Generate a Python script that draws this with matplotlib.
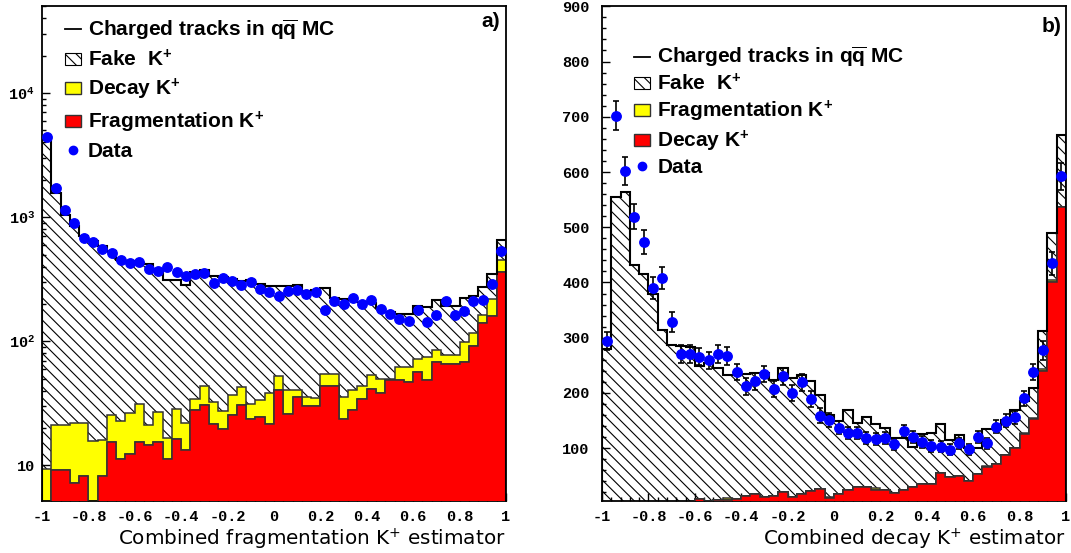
import numpy as np
import matplotlib
matplotlib.use("Agg")
import matplotlib.pyplot as plt
from matplotlib.lines import Line2D
from matplotlib.patches import Patch
from matplotlib.ticker import MultipleLocator, LogLocator, FuncFormatter, NullFormatter

plt.rcParams['font.family'] = ['Liberation Mono', 'DejaVu Sans']
plt.rcParams['font.weight'] = 'bold'
plt.rcParams['mathtext.default'] = 'regular'
plt.rcParams['hatch.linewidth'] = 0.8

# 50 bins between -1 and 1
edges = np.linspace(-1, 1, 51)
centers = 0.5 * (edges[:-1] + edges[1:])

# ---- panel a) fragmentation estimator (log scale)
data_a = [4400, 1725, 1150, 900, 681, 632, 556, 516, 456, 428,
          434, 385, 367, 395, 363, 335, 349, 356, 296, 324,
          308, 283, 299, 266, 250, 231, 253, 261, 241, 248,
          180, 211, 201, 224, 200, 215, 183, 166, 152, 147,
          180, 143, 164, 211, 162, 175, 211, 217, 290, 532]
mc_a = [4150, 1571, 1051, 846, 703, 640, 584, 532, 456, 442,
        428, 420, 385, 310, 310, 283, 363, 378, 334, 330,
        318, 308, 312, 287, 281, 280, 278, 283, 256, 261,
        269, 224, 219, 217, 208, 204, 186, 172, 167, 166,
        192, 188, 217, 194, 194, 224, 231, 272, 349, 653]
frag_a = [0, 9.2, 9.2, 7.2, 8.2, 0, 8.2, 15.4, 11.3, 12.3,
          15.4, 14.5, 15.4, 11.3, 16.4, 13.4, 27.8, 30.8, 21.7, 19.6,
          25.3, 30.8, 23.7, 24.6, 21.7, 40.7, 25.8, 35.6, 29.9, 29.9,
          43.3, 43.3, 23.8, 27.8, 34.5, 41.5, 38.3, 48.4, 49.1, 47,
          56.6, 49.1, 68, 66.1, 65.3, 68, 91.2, 141, 159, 362]
decay_a = [8.3, 11.8, 11.8, 14.8, 13.8, 14.8, 7.7, 9.9, 11.7, 14.1,
           16, 6.5, 11.5, 5.4, 11.9, 8.6, 6.7, 13.2, 10.7, 7.6,
           11.4, 12, 7.7, 8.8, 16.9, 12.3, 14.9, 5.1, 5.7, 5.1,
           11.5, 11.5, 11.8, 12.9, 8.8, 11.7, 11.7, 1.0, 12.9, 15,
           15.8, 25.6, 16.5, 11, 11.8, 30.6, 25.8, 21, 62, 86]

# ---- panel b) decay estimator (linear scale)
data_b = [294, 702, 602, 519, 473, 390, 408, 328, 271, 270,
          266, 259, 270, 267, 238, 212, 221, 234, 207, 230,
          200, 219, 189, 159, 151, 137, 127, 128, 118, 116,
          118, 107, 131, 121, 112, 104, 103, 97, 109, 98,
          121, 109, 139, 150, 156, 190, 238, 277, 435, 592]
err_b = [17, 26, 25, 23, 22, 20, 20, 18, 16, 16,
         16, 16, 16, 16, 15, 15, 15, 15, 14, 15,
         14, 15, 14, 13, 12, 12, 11, 11, 11, 11,
         11, 10, 11, 11, 11, 10, 10, 10, 10, 10,
         11, 10, 12, 12, 12, 14, 15, 17, 21, 24]
mc_b = [280, 554, 563, 432, 415, 380, 314, 286, 285, 284,
        249, 254, 246, 232, 232, 235, 237, 237, 223, 246,
        228, 232, 222, 196, 160, 150, 169, 145, 156, 143,
        137, 118, 118, 103, 125, 127, 143, 115, 124, 101,
        100, 134, 134, 151, 169, 185, 209, 312, 489, 667]
decay_b = [0, 0, 0, 0, 0, 0, 0, 0, 0, 0,
           8, 5, 6, 7, 8, 14, 17, 12, 14, 21,
           12, 17, 22, 27, 10, 18, 24, 30, 30, 25,
           25, 19, 25, 30, 35, 35, 55, 48, 49, 40,
           54, 66, 72, 87, 101, 125, 152, 240, 400, 536]
frag_b = [0, 0, 0, 0, 0, 0, 0, 0, 0, 0,
          0, 0, 0, 2, 0, 0, 0, 0, 0, 0,
          0, 0, 0, 0, 2, 0, 0, 0, 0, 3,
          0, 0, 0, 0, 0, 0, 0, 0, 0, 0,
          0, 2, 0, 0, 0, 2, 3, 3, 5, 0]

HATCH = '\\\\\\'
legend_font = dict(family='Liberation Sans', weight='bold', size=15)


def draw_stack(ax, total, low, mid, color_low, color_mid, floor):
    low = np.maximum(np.asarray(low, float), floor)
    top = low + np.asarray(mid, float)
    total = np.asarray(total, float)
    ax.stairs(total, edges, baseline=top, fill=True, facecolor='white',
              edgecolor='black', hatch=HATCH, linewidth=0, zorder=1)
    ax.stairs(top, edges, baseline=low, fill=True, facecolor=color_mid,
              edgecolor='#333333', linewidth=1.1, zorder=2)
    ax.stairs(low, edges, baseline=floor, fill=True, facecolor=color_low,
              edgecolor='#333333', linewidth=1.1, zorder=3)
    ax.stairs(total, edges, baseline=floor, fill=False, color='black',
              linewidth=1.5, zorder=4)


def style_axes(ax):
    ax.set_xlim(-1, 1)
    ax.xaxis.set_major_locator(MultipleLocator(0.2))
    ax.xaxis.set_minor_locator(MultipleLocator(0.04))
    ax.xaxis.set_major_formatter(FuncFormatter(
        lambda v, p: '0' if abs(v) < 1e-9 else '%g' % round(v, 2)))
    ax.tick_params(which='both', direction='in', top=False, right=False,
                   labelsize=11, width=1.0)
    ax.tick_params(which='major', length=6)
    ax.tick_params(which='minor', length=3)
    ax.tick_params(axis='x', pad=7)
    for s in ax.spines.values():
        s.set_linewidth(1.3)


def legend(ax, labels, colors, anchor, spacing):
    handles = [Line2D([], [], color='black', lw=1.3),
               Patch(facecolor='white', edgecolor='black', hatch=HATCH, lw=0.8),
               Patch(facecolor=colors[0], edgecolor='#333333', lw=1.0),
               Patch(facecolor=colors[1], edgecolor='#333333', lw=1.0),
               Line2D([], [], marker='o', ls='none', color='blue', ms=6)]
    ax.legend(handles, labels, loc='upper left', bbox_to_anchor=anchor,
              frameon=False, prop=legend_font, handlelength=0.75,
              handleheight=0.5, handletextpad=0.35, labelspacing=spacing,
              borderaxespad=0, borderpad=0)


fig = plt.figure(figsize=(10.71, 5.53), dpi=100)
ax1 = fig.add_axes([0.0392, 0.0946, 0.4332, 0.894])
ax2 = fig.add_axes([0.5621, 0.0946, 0.4332, 0.894])

# panel a
ax1.set_yscale('log')
draw_stack(ax1, mc_a, frag_a, decay_a, 'red', 'yellow', 1.0)
ax1.plot(centers, data_a, 'o', color='blue', ms=6.8, zorder=5)
ax1.set_ylim(5.2, 5.0e4)
style_axes(ax1)
ax1.yaxis.set_major_locator(LogLocator(base=10))
ax1.yaxis.set_minor_locator(LogLocator(base=10, subs=np.arange(2, 10)))
ax1.yaxis.set_minor_formatter(NullFormatter())
ax1.yaxis.set_major_formatter(FuncFormatter(
    lambda v, p: '10' if round(np.log10(v)) == 1 else '10$^{%d}$' % round(np.log10(v))))
ax1.tick_params(axis='y', pad=5)
ax1.set_xlabel('Combined fragmentation K$^{+}$ estimator', loc='right',
               fontfamily='DejaVu Sans', fontweight='normal', fontsize=14.4, labelpad=2)
ax1.text(0.987, 0.988, 'a)', transform=ax1.transAxes, ha='right', va='top', **legend_font)
legend(ax1, [r'Charged tracks in q$\overline{q}$ MC', 'Fake  K$^{+}$', 'Decay K$^{+}$',
             'Fragmentation K$^{+}$', 'Data'], ['yellow', 'red'], (0.05, 0.978), 0.34)

# panel b
draw_stack(ax2, mc_b, decay_b, frag_b, 'red', 'yellow', 0.0)
ax2.errorbar(centers, data_b, yerr=err_b, fmt='o', color='blue', ms=6.8,
             ecolor='black', elinewidth=1.2, capsize=2.5, capthick=1.2, zorder=5)
ax2.set_ylim(5, 900)
style_axes(ax2)
ax2.yaxis.set_major_locator(MultipleLocator(100))
ax2.yaxis.set_minor_locator(MultipleLocator(20))
ax2.yaxis.set_major_formatter(FuncFormatter(lambda v, p: '%d' % v))
ax2.tick_params(axis='y', pad=9)
ax2.set_xlabel('Combined decay K$^{+}$ estimator', loc='right',
               fontfamily='DejaVu Sans', fontweight='normal', fontsize=14.3, labelpad=2)
ax2.text(0.991, 0.979, 'b)', transform=ax2.transAxes, ha='right', va='top', **legend_font)
legend(ax2, [r'Charged tracks in q$\overline{q}$ MC', 'Fake  K$^{+}$', 'Fragmentation K$^{+}$',
             'Decay K$^{+}$', 'Data'], ['yellow', 'red'], (0.07, 0.922), 0.2)

fig.savefig('out.png', dpi=100)
